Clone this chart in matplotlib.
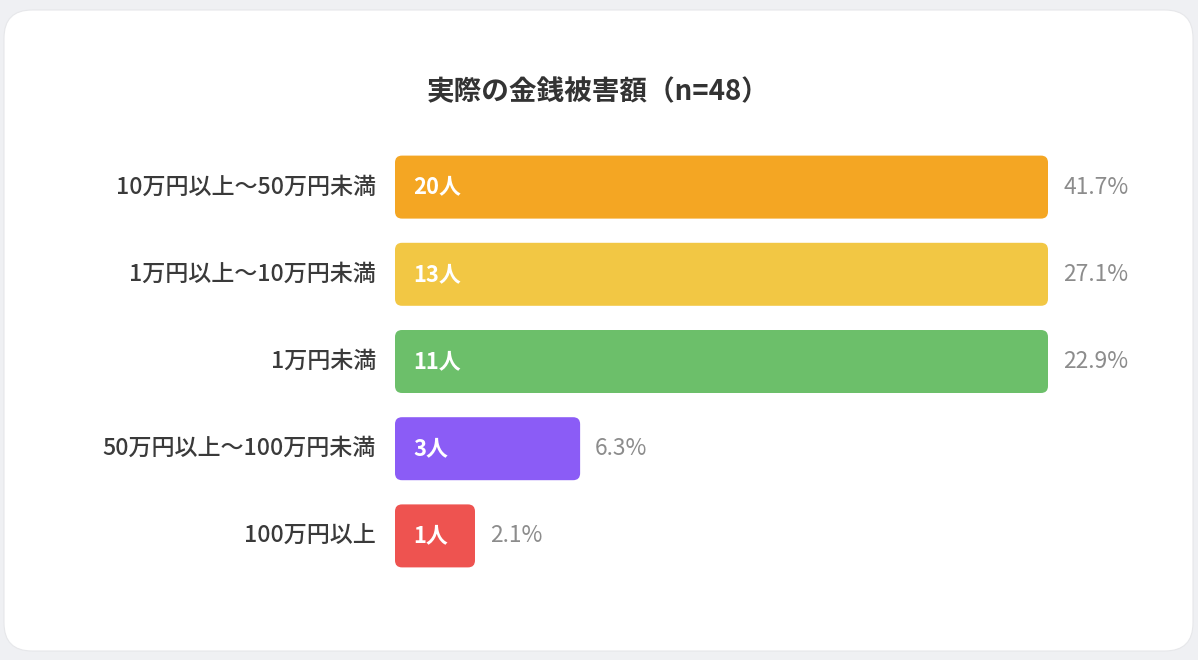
import numpy as np
import matplotlib
matplotlib.use("Agg")
import matplotlib.pyplot as plt
from matplotlib.patches import FancyBboxPatch

plt.rcParams['font.family'] = ['Noto Sans CJK JP', 'DejaVu Sans']

# ---- data ----
title = "実際の金銭被害額（n=48）"
categories = ["10万円以上〜50万円未満", "1万円以上〜10万円未満", "1万円未満",
              "50万円以上〜100万円未満", "100万円以上"]
counts = [20, 13, 11, 3, 1]
percents = [41.7, 27.1, 22.9, 6.3, 2.1]
colors = ["#F4A623", "#F2C744", "#6CBF6A", "#8B5CF6", "#EE5350"]

# display scale used by the original chart (bar length = percent x 4.5, clipped)
scale_factor = 4.5
min_len = 12.25
max_len = 100.0
bar_len = np.clip(np.array(percents) * scale_factor, min_len, max_len)

W, H = 1198, 660
fig = plt.figure(figsize=(W / 100, H / 100), dpi=100)
fig.patch.set_facecolor("#EFF0F3")

# background card (pixel coordinates)
bg = fig.add_axes([0, 0, 1, 1])
bg.set_xlim(0, W)
bg.set_ylim(H, 0)
bg.axis("off")
card = FancyBboxPatch((4, 10), 1189, 641, boxstyle="round,pad=0,rounding_size=28",
                      facecolor="white", edgecolor="#E6E7EA", linewidth=0.8)
bg.add_patch(card)
bg.text(598, 92, title, ha="center", va="center", fontsize=19.9, fontweight="bold",
        color="#333333")

# bar axes
x0_px, x1_px = 395, 1048
y_top_px, y_bot_px = 143.5, 579.5
ax = fig.add_axes([x0_px / W, 1 - y_bot_px / H, (x1_px - x0_px) / W,
                   (y_bot_px - y_top_px) / H])
ax.set_xlim(0, 100)
ax.set_ylim(len(categories) - 0.5, -0.5)
ax.axis("off")

px_per_x = (x1_px - x0_px) / 100.0
px_per_y = (y_bot_px - y_top_px) / len(categories)
bar_h = 63 / px_per_y
radius_px = 7
aspect = px_per_x / px_per_y

ypos = np.arange(len(categories))
bars = ax.barh(ypos, bar_len, height=bar_h, color=colors)
for b, c in zip(bars, colors):
    b.set_visible(False)
    p = FancyBboxPatch((b.get_x(), b.get_y()), b.get_width(), b.get_height(),
                       boxstyle=f"round,pad=0,rounding_size={radius_px / px_per_x}",
                       mutation_aspect=aspect, facecolor=c, edgecolor="none")
    ax.add_patch(p)

for y, lab, n, pct, L in zip(ypos, categories, counts, percents, bar_len):
    ax.text(-19 / px_per_x, y, lab, ha="right", va="center", fontsize=16.6,
            color="#3A3A3A", fontweight="medium")
    ax.text(18 / px_per_x, y, f"{n}人", ha="left", va="center", fontsize=15.8,
            color="white", fontweight="bold")
    ax.text(L + 15 / px_per_x, y, f"{pct}%", ha="left", va="center", fontsize=16.4,
            color="#8C8C8C")

fig.savefig("out.png", dpi=100, facecolor=fig.get_facecolor())
